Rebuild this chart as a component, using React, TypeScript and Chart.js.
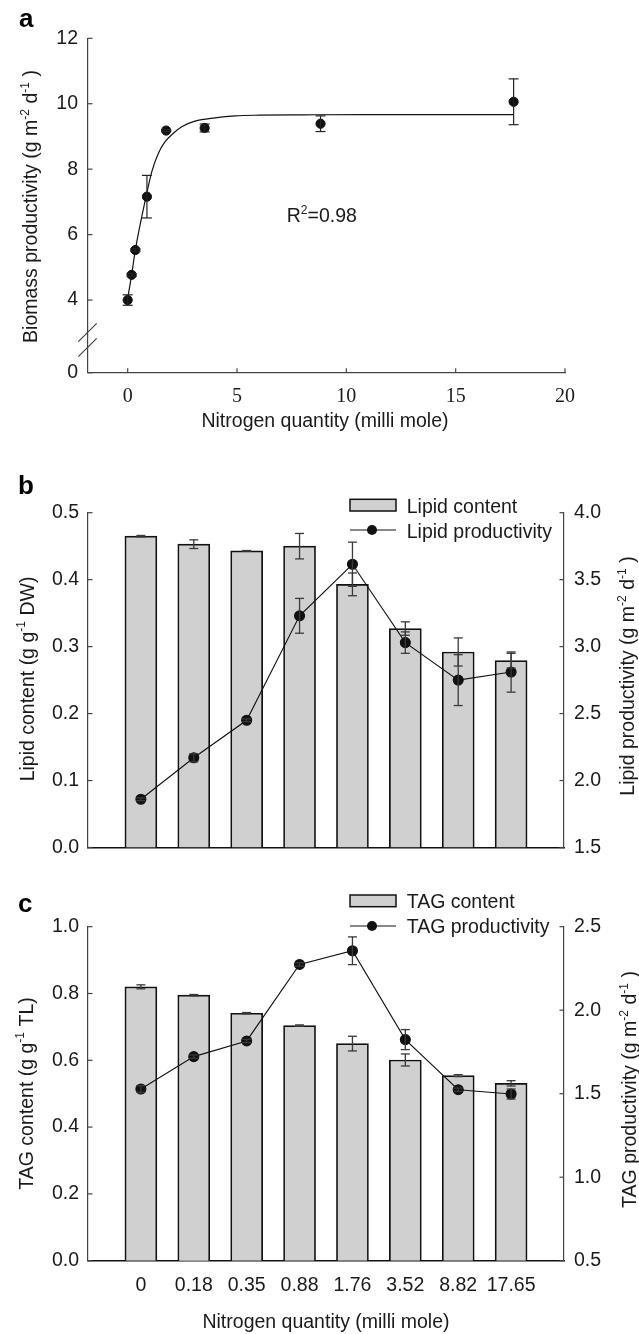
import React, { useEffect, useRef } from 'react';
import { Chart, registerables } from 'chart.js';

Chart.register(...registerables);

const SANS = '"Liberation Sans", Arial, Helvetica, sans-serif';
const SERIF = '"Liberation Serif", "Times New Roman", serif';
const TEXT = '#1a1a1a';
const AXIS = '#444';
const ERR = '#3a3a3a';

// ---------- Panel a ----------
const nitrogenMmol = [0, 0.18, 0.35, 0.88, 1.76, 3.52, 8.82, 17.65];
const biomassProd = [4.0, 4.77, 5.53, 7.16, 9.18, 9.26, 9.39, 10.06];
const biomassErr = [0.16, 0.04, 0.04, 0.65, 0.03, 0.12, 0.24, 0.7];
const fitX = [0, 0.18, 0.35, 0.84, 1.1, 1.4, 1.71, 2.09, 2.47, 3.08, 3.99, 4.91, 6.05, 8, 11, 14, 17.65];
const fitY = [4.05, 4.77, 5.53, 7.16, 7.92, 8.48, 8.84, 9.1, 9.3, 9.47, 9.57, 9.63, 9.65, 9.66, 9.67, 9.67, 9.67];
const aXTicks = [0, 5, 10, 15, 20];
const aYTicks = [4, 6, 8, 10, 12];
const aYBreakLabel = '0';
const aRSquared = '0.98';

// ---------- Panels b, c ----------
const nLabels = ['0', '0.18', '0.35', '0.88', '1.76', '3.52', '8.82', '17.65'];
const lipidContent = [0.465, 0.453, 0.443, 0.45, 0.393, 0.327, 0.292, 0.279];
const lipidContentErr = [0.001, 0.0065, 0.0005, 0.019, 0.017, 0.01, 0.021, 0.011];
const lipidProd = [1.86, 2.17, 2.45, 3.23, 3.615, 3.03, 2.75, 2.81];
const lipidProdErr = [0.01, 0.03, 0.01, 0.13, 0.165, 0.08, 0.19, 0.15];

const tagContent = [0.82, 0.795, 0.741, 0.704, 0.65, 0.601, 0.554, 0.531];
const tagContentErr = [0.006, 0.002, 0.002, 0.002, 0.022, 0.018, 0.003, 0.008];
const tagProd = [1.528, 1.722, 1.816, 2.274, 2.356, 1.824, 1.524, 1.498];
const tagProdErr = [0.02, 0.01, 0.01, 0.01, 0.083, 0.06, 0.01, 0.03];

type Part = { t: string; sup?: boolean };

function drawRich(ctx: CanvasRenderingContext2D, parts: Part[], x: number, y: number, size: number, rotate: boolean, align: 'left' | 'center') {
  ctx.save();
  ctx.translate(x, y);
  if (rotate) ctx.rotate(-Math.PI / 2);
  const supSize = size * 0.62;
  const fontFor = (p: Part) => `${p.sup ? supSize : size}px ${SANS}`;
  let total = 0;
  const ws = parts.map((p) => {
    ctx.font = fontFor(p);
    const w = ctx.measureText(p.t).width;
    total += w;
    return w;
  });
  let cx = align === 'left' ? 0 : -total / 2;
  ctx.textBaseline = 'alphabetic';
  ctx.textAlign = 'left';
  ctx.fillStyle = TEXT;
  parts.forEach((p, i) => {
    ctx.font = fontFor(p);
    ctx.fillText(p.t, cx, p.sup ? -size * 0.42 : 0);
    cx += ws[i];
  });
  ctx.restore();
}

function seg(ctx: CanvasRenderingContext2D, x1: number, y1: number, x2: number, y2: number) {
  ctx.beginPath();
  ctx.moveTo(x1, y1);
  ctx.lineTo(x2, y2);
  ctx.stroke();
}

function drawErr(ctx: CanvasRenderingContext2D, px: number, top: number, bot: number, cap: number) {
  seg(ctx, px, top, px, bot);
  seg(ctx, px - cap, top, px + cap, top);
  seg(ctx, px - cap, bot, px + cap, bot);
}

function panelLetter(ctx: CanvasRenderingContext2D, s: string, x: number, y: number) {
  ctx.save();
  ctx.font = `bold 26px ${SANS}`;
  ctx.fillStyle = '#000';
  ctx.textAlign = 'left';
  ctx.textBaseline = 'alphabetic';
  ctx.fillText(s, x, y);
  ctx.restore();
}

const aYBase = 1.78;
const noGrid = { display: false, drawTicks: false };

function buildA(canvas: HTMLCanvasElement) {
  const plugin = {
    id: 'panelA',
    afterDatasetsDraw(chart: any) {
      const ctx = chart.ctx as CanvasRenderingContext2D;
      const xs = chart.scales.x;
      const ys = chart.scales.y;
      ctx.save();
      ctx.strokeStyle = '#222';
      ctx.lineWidth = 1.2;
      nitrogenMmol.forEach((n, i) => {
        const px = xs.getPixelForValue(n);
        drawErr(ctx, px, ys.getPixelForValue(biomassProd[i] + biomassErr[i]), ys.getPixelForValue(biomassProd[i] - biomassErr[i]), 5);
      });
      ctx.restore();
    },
    afterDraw(chart: any) {
      const ctx = chart.ctx as CanvasRenderingContext2D;
      const xs = chart.scales.x;
      const ys = chart.scales.y;
      const { left, bottom, top } = chart.chartArea;
      ctx.save();
      ctx.strokeStyle = AXIS;
      ctx.lineWidth = 1.2;
      xs.ticks.forEach((t: any) => {
        const px = xs.getPixelForValue(t.value);
        seg(ctx, px, bottom, px, bottom - 4.5);
      });
      ys.ticks.forEach((t: any) => {
        const py = ys.getPixelForValue(t.value);
        seg(ctx, left, py, left + 4.5, py);
      });
      // axis break marks
      seg(ctx, left - 9.7, bottom - 31, left + 8.7, bottom - 49.4);
      seg(ctx, left - 9.7, bottom - 16, left + 8.7, bottom - 34.4);
      ctx.restore();
      drawRich(ctx, [{ t: 'Biomass productivity (g m' }, { t: '-2', sup: true }, { t: ' d' }, { t: '-1', sup: true }, { t: ' )' }], 37, (top + bottom) / 2 + 1, 19.5, true, 'center');
      drawRich(ctx, [{ t: 'Nitrogen quantity (milli mole)' }], 325, 427, 19.5, false, 'center');
      drawRich(ctx, [{ t: 'R' }, { t: '2', sup: true }, { t: '=' + aRSquared }], 286.7, 221.7, 19.5, false, 'left');
      panelLetter(ctx, 'a', 19, 27);
    },
  };
  return new Chart(canvas, {
    type: 'scatter',
    data: {
      datasets: [
        {
          label: 'Biomass productivity',
          data: nitrogenMmol.map((x, i) => ({ x, y: biomassProd[i] })),
          pointRadius: 4.6,
          pointBackgroundColor: '#111',
          pointBorderColor: '#111',
          showLine: false,
          order: 1,
        },
        {
          label: 'Fit',
          data: fitX.map((x, i) => ({ x, y: fitY[i] })),
          showLine: true,
          pointRadius: 0,
          borderColor: '#111',
          borderWidth: 1.2,
          cubicInterpolationMode: 'monotone',
          order: 2,
        },
      ],
    } as any,
    options: {
      responsive: false,
      animation: false,
      devicePixelRatio: 1,
      layout: { padding: { top: 38.3, right: 74, left: 0, bottom: 0 } },
      plugins: { legend: { display: false }, tooltip: { enabled: false } },
      scales: {
        x: {
          type: 'linear',
          min: -1.815,
          max: 20,
          grid: noGrid,
          border: { display: true, color: AXIS, width: 1.2 },
          afterBuildTicks: (s: any) => { s.ticks = aXTicks.map((v) => ({ value: v })); },
          ticks: { font: { family: SERIF, size: 20 }, color: TEXT, padding: 12, maxRotation: 0, autoSkip: false, callback: (v: any) => String(v) },
          afterFit: (s: any) => { s.height = 67.3; },
        },
        y: {
          type: 'linear',
          min: aYBase,
          max: 12,
          grid: noGrid,
          border: { display: true, color: AXIS, width: 1.2 },
          afterBuildTicks: (s: any) => { s.ticks = [aYBase, ...aYTicks].map((v) => ({ value: v })); },
          ticks: { font: { family: SANS, size: 19.5 }, color: TEXT, padding: 10, autoSkip: false, callback: (v: any) => (v === aYBase ? aYBreakLabel : String(v)) },
          afterFit: (s: any) => { s.width = 88; },
        },
      },
    } as any,
    plugins: [plugin],
  });
}

type ComboCfg = {
  letter: string;
  letterY: number;
  contentLabel: string;
  prodLabel: string;
  content: number[];
  contentErr: number[];
  prod: number[];
  prodErr: number[];
  yMax: number;
  yStep: number;
  y2Min: number;
  y2Max: number;
  y2Step: number;
  padTop: number;
  xHeight: number;
  showX: boolean;
  leftTitle: Part[];
  leftX: number;
  leftY: number;
  rightTitle: Part[];
  rightX: number;
  rightY: number;
  xTitleY: number;
  legendY1: number;
  legendBoxTop: number;
  legendLineY: number;
  legendY2: number;
};

function buildCombo(canvas: HTMLCanvasElement, c: ComboCfg) {
  const plugin = {
    id: 'combo',
    afterDatasetsDraw(chart: any) {
      const ctx = chart.ctx as CanvasRenderingContext2D;
      const xs = chart.scales.x;
      const ys = chart.scales.y;
      const y2 = chart.scales.y2;
      ctx.save();
      ctx.strokeStyle = ERR;
      ctx.lineWidth = 1.3;
      c.content.forEach((v, i) => {
        const px = xs.getPixelForValue(i + 1);
        drawErr(ctx, px, ys.getPixelForValue(v + c.contentErr[i]), ys.getPixelForValue(v - c.contentErr[i]), 4.5);
      });
      c.prod.forEach((v, i) => {
        const px = xs.getPixelForValue(i + 1);
        drawErr(ctx, px, y2.getPixelForValue(v + c.prodErr[i]), y2.getPixelForValue(v - c.prodErr[i]), 4.5);
      });
      ctx.restore();
    },
    afterDraw(chart: any) {
      const ctx = chart.ctx as CanvasRenderingContext2D;
      const ys = chart.scales.y;
      const y2 = chart.scales.y2;
      const { left, right } = chart.chartArea;
      ctx.save();
      ctx.strokeStyle = AXIS;
      ctx.lineWidth = 1.2;
      ys.ticks.forEach((t: any) => {
        const py = ys.getPixelForValue(t.value);
        seg(ctx, left, py, left + 4.5, py);
      });
      y2.ticks.forEach((t: any) => {
        const py = y2.getPixelForValue(t.value);
        seg(ctx, right, py, right - 4.5, py);
      });
      ctx.restore();

      // legend
      const ds = chart.data.datasets;
      ctx.save();
      ctx.fillStyle = '#d0d0d0';
      ctx.strokeStyle = '#111';
      ctx.lineWidth = 1.5;
      ctx.fillRect(350, c.legendBoxTop, 46, 11.7);
      ctx.strokeRect(350, c.legendBoxTop, 46, 11.7);
      ctx.lineWidth = 1.1;
      seg(ctx, 350, c.legendLineY, 396, c.legendLineY);
      ctx.fillStyle = '#111';
      ctx.beginPath();
      ctx.arc(372, c.legendLineY, 5, 0, Math.PI * 2);
      ctx.fill();
      ctx.restore();
      drawRich(ctx, [{ t: ds[0].label }], 406.7, c.legendY1, 19.5, false, 'left');
      drawRich(ctx, [{ t: ds[1].label }], 406.7, c.legendY2, 19.5, false, 'left');

      drawRich(ctx, c.leftTitle, c.leftX, c.leftY, 19.5, true, 'center');
      drawRich(ctx, c.rightTitle, c.rightX, c.rightY, 19.5, true, 'center');
      if (c.showX) drawRich(ctx, [{ t: 'Nitrogen quantity (milli mole)' }], 326, c.xTitleY, 19.5, false, 'center');
      panelLetter(ctx, c.letter, 18, c.letterY);
    },
  };
  return new Chart(canvas, {
    type: 'bar',
    data: {
      datasets: [
        {
          type: 'bar',
          label: c.contentLabel,
          data: c.content.map((y, i) => ({ x: i + 1, y })),
          yAxisID: 'y',
          backgroundColor: '#d0d0d0',
          borderColor: '#111',
          borderWidth: 1.7,
          barThickness: 32,
          order: 2,
        },
        {
          type: 'line',
          label: c.prodLabel,
          data: c.prod.map((y, i) => ({ x: i + 1, y })),
          yAxisID: 'y2',
          borderColor: '#111',
          borderWidth: 1.1,
          pointRadius: 5,
          pointBackgroundColor: '#111',
          pointBorderColor: '#111',
          tension: 0,
          order: 1,
        },
      ],
    } as any,
    options: {
      responsive: false,
      animation: false,
      devicePixelRatio: 1,
      layout: { padding: { top: c.padTop, right: 0, left: 0, bottom: 0 } },
      plugins: { legend: { display: false }, tooltip: { enabled: false } },
      scales: {
        x: {
          type: 'linear',
          min: 0,
          max: 9,
          offset: false,
          grid: noGrid,
          border: { display: true, color: '#111', width: 1.5 },
          afterBuildTicks: (s: any) => { s.ticks = nLabels.map((_, i) => ({ value: i + 1 })); },
          ticks: { display: c.showX, font: { family: SANS, size: 19.5 }, color: TEXT, padding: 13, maxRotation: 0, autoSkip: false, callback: (v: any) => nLabels[Math.round(v) - 1] },
          afterFit: (s: any) => { s.height = c.xHeight; },
        },
        y: {
          type: 'linear',
          position: 'left',
          min: 0,
          max: c.yMax,
          grid: noGrid,
          border: { display: true, color: AXIS, width: 1.2 },
          ticks: { stepSize: c.yStep, font: { family: SANS, size: 19.5 }, color: TEXT, padding: 9, callback: (v: any) => Number(v).toFixed(1) },
          afterFit: (s: any) => { s.width = 88; },
        },
        y2: {
          type: 'linear',
          position: 'right',
          min: c.y2Min,
          max: c.y2Max,
          grid: noGrid,
          border: { display: true, color: AXIS, width: 1.2 },
          ticks: { stepSize: c.y2Step, font: { family: SANS, size: 19.5 }, color: TEXT, padding: 10, callback: (v: any) => Number(v).toFixed(1) },
          afterFit: (s: any) => { s.width = 75; },
        },
      },
    } as any,
    plugins: [plugin],
  });
}

const prodTitle = (name: string): Part[] => [{ t: name + ' productivity (g m' }, { t: '-2', sup: true }, { t: ' d' }, { t: '-1', sup: true }, { t: ' )' }];

const cfgB: ComboCfg = {
  letter: 'b',
  letterY: 53.5,
  contentLabel: 'Lipid content',
  prodLabel: 'Lipid productivity',
  content: lipidContent,
  contentErr: lipidContentErr,
  prod: lipidProd,
  prodErr: lipidProdErr,
  yMax: 0.5,
  yStep: 0.1,
  y2Min: 1.5,
  y2Max: 4.0,
  y2Step: 0.5,
  padTop: 72.7,
  xHeight: 22.5,
  showX: false,
  leftTitle: [{ t: 'Lipid content (g g' }, { t: '-1', sup: true }, { t: ' DW)' }],
  leftX: 33.5,
  leftY: 239,
  rightTitle: prodTitle('Lipid'),
  rightX: 634,
  rightY: 236,
  xTitleY: 0,
  legendY1: 72.7,
  legendBoxTop: 59.3,
  legendLineY: 90,
  legendY2: 98.3,
};

const cfgC: ComboCfg = {
  letter: 'c',
  letterY: 41.7,
  contentLabel: 'TAG content',
  prodLabel: 'TAG productivity',
  content: tagContent,
  contentErr: tagContentErr,
  prod: tagProd,
  prodErr: tagProdErr,
  yMax: 1.0,
  yStep: 0.2,
  y2Min: 0.5,
  y2Max: 2.5,
  y2Step: 0.5,
  padTop: 56.7,
  xHeight: 73.3,
  showX: true,
  leftTitle: [{ t: 'TAG content (g g' }, { t: '-1', sup: true }, { t: ' TL)' }],
  leftX: 32.5,
  leftY: 223.5,
  rightTitle: prodTitle('TAG'),
  rightX: 636,
  rightY: 219.5,
  xTitleY: 458,
  legendY1: 38.3,
  legendBoxTop: 25,
  legendLineY: 56,
  legendY2: 63.3,
};

function ChartCanvas({ top, height, build }: { top: number; height: number; build: (c: HTMLCanvasElement) => Chart }) {
  const ref = useRef<HTMLCanvasElement>(null);
  useEffect(() => {
    if (!ref.current) return;
    const chart = build(ref.current);
    return () => chart.destroy();
  }, []);
  return (
    <canvas
      ref={ref}
      width={639}
      height={height}
      style={{ position: 'absolute', left: 0, top, width: 639, height, display: 'block' }}
    />
  );
}

export default function App() {
  return (
    <div style={{ position: 'absolute', left: 0, top: 0, width: 639, height: 1334, background: '#fff', overflow: 'hidden' }}>
      <ChartCanvas top={0} height={440} build={buildA} />
      <ChartCanvas top={440} height={430} build={(cv) => buildCombo(cv, cfgB)} />
      <ChartCanvas top={870} height={464} build={(cv) => buildCombo(cv, cfgC)} />
    </div>
  );
}
